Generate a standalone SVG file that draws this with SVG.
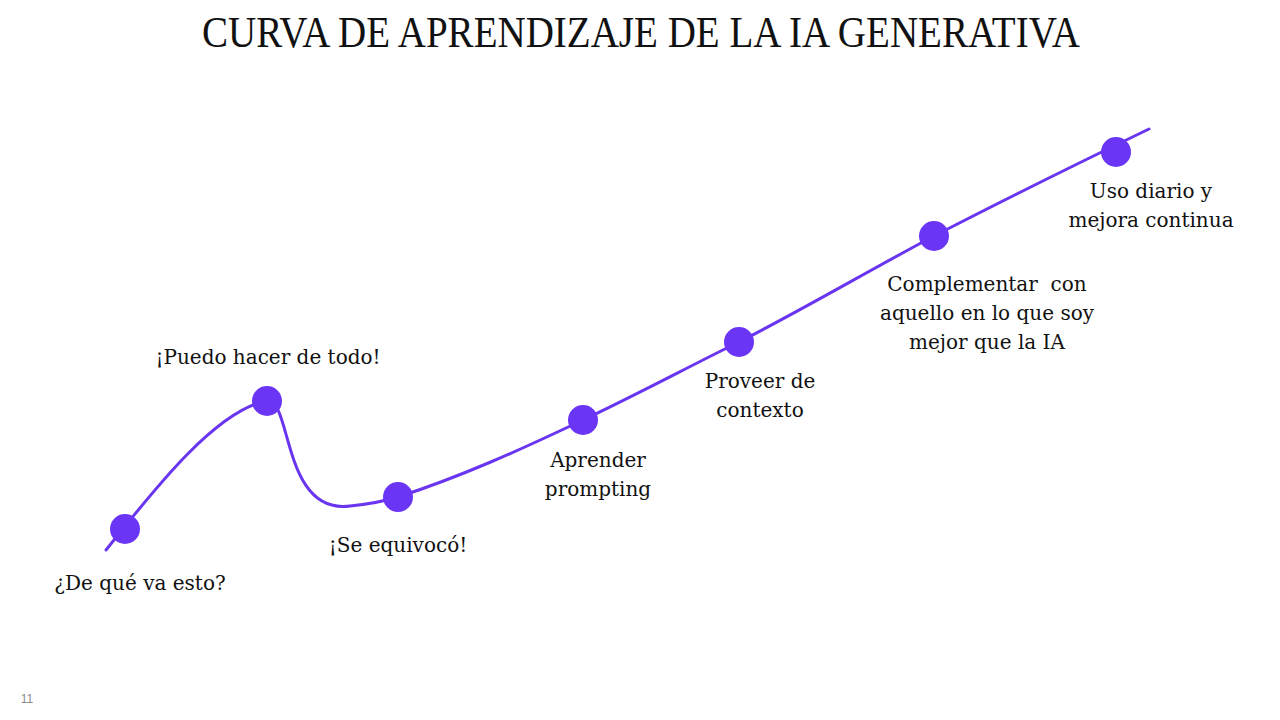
<svg xmlns="http://www.w3.org/2000/svg" width="1280" height="720" viewBox="0 0 1280 720">
<style>
.lbl{font-family:"DejaVu Serif","Liberation Serif",serif;font-size:20px;fill:#111;text-anchor:middle}
.dot{fill:#6a35f5}
.curve{fill:none;stroke:#6a35f0;stroke-width:3;stroke-linecap:round}
</style>
<rect width="1280" height="720" fill="#fff"/>
<text x="641" y="47" font-family="Liberation Serif, serif" font-size="44" fill="#111" text-anchor="middle" textLength="878" lengthAdjust="spacingAndGlyphs">CURVA DE APRENDIZAJE DE LA IA GENERATIVA</text>
<g id="connectors">
<path class="curve" d="M106,550 C150,495 215,410 267,401 C292,398 282,515 350,506 C370,504 385,501 398,497 C460,477 520,450 583,420 C640,393 690,366 739,342 C800,311 870,270 934,236 C1000,202 1060,172 1149,129"/>
</g>
<g id="n1"><circle class="dot" cx="125" cy="529" r="15"/><text class="lbl" x="140" y="590">¿De qué va esto?</text></g>
<g id="n2"><circle class="dot" cx="267" cy="401" r="15"/><text class="lbl" x="268" y="364">¡Puedo hacer de todo!</text></g>
<g id="n3"><circle class="dot" cx="398" cy="497" r="15"/><text class="lbl" x="398" y="552">¡Se equivocó!</text></g>
<g id="n4"><circle class="dot" cx="583" cy="420" r="15"/><text class="lbl" x="598" y="467">Aprender</text><text class="lbl" x="598" y="496">prompting</text></g>
<g id="n5"><circle class="dot" cx="739" cy="342" r="15"/><text class="lbl" x="760" y="388">Proveer de</text><text class="lbl" x="760" y="417">contexto</text></g>
<g id="n6"><circle class="dot" cx="934" cy="236" r="15"/><text class="lbl" x="987" y="291" xml:space="preserve">Complementar  con</text><text class="lbl" x="987" y="320">aquello en lo que soy</text><text class="lbl" x="987" y="349">mejor que la IA</text></g>
<g id="n7"><circle class="dot" cx="1116" cy="152" r="15"/><text class="lbl" x="1151" y="198">Uso diario y</text><text class="lbl" x="1151" y="227">mejora continua</text></g>
<text x="27" y="703" font-family="Liberation Sans, sans-serif" font-size="12" fill="#8a8a8a" text-anchor="middle">11</text>
</svg>
